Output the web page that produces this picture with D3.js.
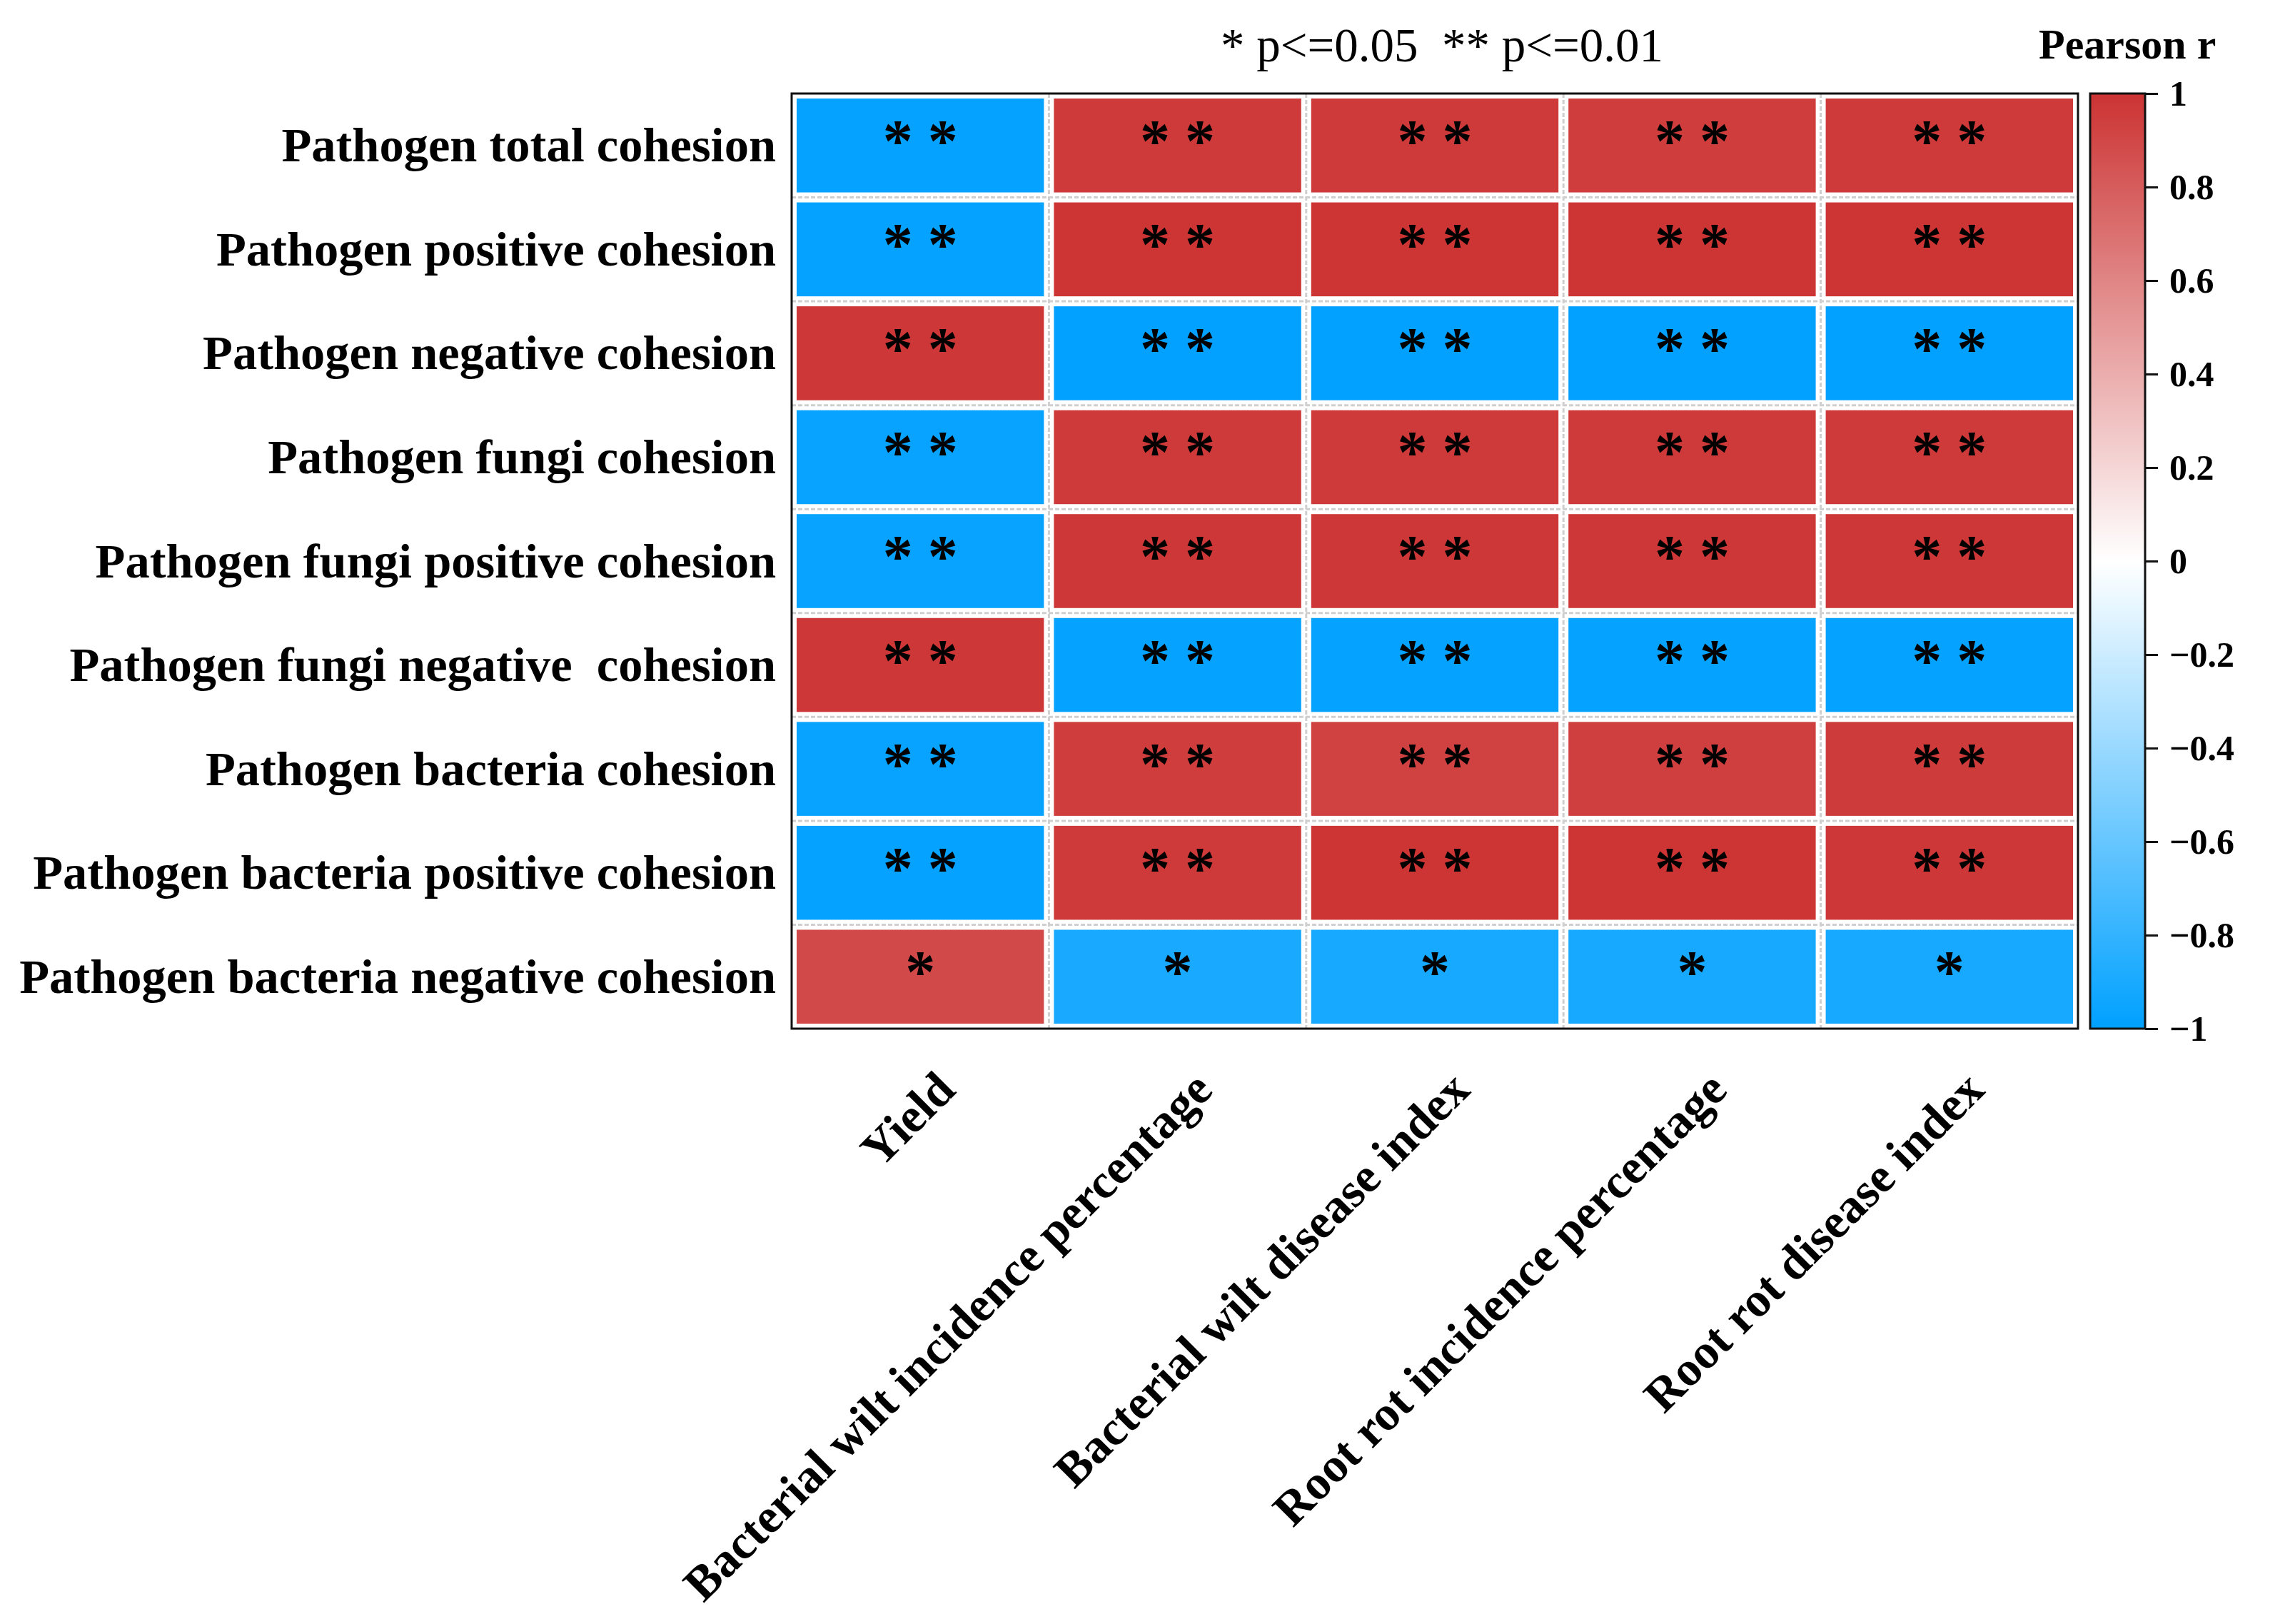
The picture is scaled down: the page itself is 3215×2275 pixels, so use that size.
<!DOCTYPE html>
<html lang="en">
<head>
  <meta charset="UTF-8">
  <title>pearson heatmap</title>
  <script src="https://cdn.jsdelivr.net/npm/d3@7"></script>
  <style>
    body { margin: 0; background: #fff; }
    text { font-family: "Liberation Serif", "Times New Roman", serif; }
  </style>
</head>
<body>
  <script>
    // row / column labels
    var rows = [
      'Pathogen total cohesion',
      'Pathogen positive cohesion',
      'Pathogen negative cohesion',
      'Pathogen fungi cohesion',
      'Pathogen fungi positive cohesion',
      'Pathogen fungi negative  cohesion',
      'Pathogen bacteria cohesion',
      'Pathogen bacteria positive cohesion',
      'Pathogen bacteria negative cohesion'
    ]
    var cols = [
      'Yield',
      'Bacterial wilt incidence percentage',
      'Bacterial wilt disease index',
      'Root rot incidence percentage',
      'Root rot disease index'
    ]
    // pearson r, one list per row
    var r_total      = [-0.98, 0.97, 0.97, 0.95, 0.97]
    var r_pos        = [-0.98, 0.99, 0.99, 0.99, 0.99]
    var r_neg        = [0.98, -0.99, -0.99, -0.99, -0.99]
    var r_fungi      = [-0.97, 0.97, 0.97, 0.97, 0.97]
    var r_fungi_pos  = [-0.97, 0.98, 0.98, 0.98, 0.98]
    var r_fungi_neg  = [0.98, -0.98, -0.98, -0.98, -0.98]
    var r_bact       = [-0.97, 0.95, 0.93, 0.94, 0.96]
    var r_bact_pos   = [-0.98, 0.97, 0.99, 0.99, 0.98]
    var r_bact_neg   = [0.89, -0.90, -0.91, -0.91, -0.91]
    var values = [r_total, r_pos, r_neg, r_fungi, r_fungi_pos, r_fungi_neg, r_bact, r_bact_pos, r_bact_neg]
    // significance marks
    var signif = [
      ['**', '**', '**', '**', '**'],
      ['**', '**', '**', '**', '**'],
      ['**', '**', '**', '**', '**'],
      ['**', '**', '**', '**', '**'],
      ['**', '**', '**', '**', '**'],
      ['**', '**', '**', '**', '**'],
      ['**', '**', '**', '**', '**'],
      ['**', '**', '**', '**', '**'],
      ['*', '*', '*', '*', '*']
    ]
    var barTicks = [1, 0.8, 0.6, 0.4, 0.2, 0, -0.2, -0.4, -0.6, -0.8, -1]

    var w = 3215, h = 2275
    var pL = 1109, pR = 2911, pT = 131, pB = 1441
    var inset = 7

    var svg = d3.select('body').append('svg').attr('width', w).attr('height', h)

    var x = d3.scaleBand().domain(d3.range(cols.length)).range([pL, pR])
    var y = d3.scaleBand().domain(d3.range(rows.length)).range([pT, pB])
    var color = d3.scaleLinear().domain([-1, 0, 1]).range(['#00a0ff', '#ffffff', '#cc3333'])

    // cells
    var cells = []
    values.forEach(function (row, i) {
      row.forEach(function (v, j) { cells.push({ i: i, j: j, v: v, s: signif[i][j] }) })
    })
    svg.append('g').selectAll('rect').data(cells).enter().append('rect')
      .attr('x', function (d) { return x(d.j) + inset })
      .attr('y', function (d) { return y(d.i) + inset })
      .attr('width', x.bandwidth() - 2 * inset)
      .attr('height', y.bandwidth() - 2 * inset)
      .attr('fill', function (d) { return color(d.v) })

    // dashed grid between cells
    var grid = svg.append('g').attr('stroke', '#cfcfcf').attr('stroke-width', 3).attr('stroke-dasharray', '6,3')
    d3.range(1, rows.length).forEach(function (i) {
      grid.append('line').attr('x1', pL).attr('x2', pR).attr('y1', y(i)).attr('y2', y(i))
    })
    d3.range(1, cols.length).forEach(function (j) {
      grid.append('line').attr('y1', pT).attr('y2', pB).attr('x1', x(j)).attr('x2', x(j))
    })

    svg.append('rect').attr('x', pL).attr('y', pT).attr('width', pR - pL).attr('height', pB - pT)
      .attr('fill', 'none').attr('stroke', '#111').attr('stroke-width', 3)

    // asterisks
    svg.append('g').selectAll('text').data(cells).enter().append('text')
      .attr('x', function (d) { return x(d.j) + x.bandwidth() / 2 })
      .attr('y', function (d) { return y(d.i) + y.bandwidth() / 2 + 22 })
      .attr('text-anchor', 'middle')
      .attr('font-size', 84)
      .attr('font-weight', 'bold')
      .text(function (d) { return d.s.split('').join(' ') })

    // row labels
    svg.append('g').selectAll('text').data(rows).enter().append('text')
      .attr('x', pL - 22)
      .attr('y', function (d, i) { return y(i) + y.bandwidth() / 2 })
      .attr('dy', '0.33em')
      .attr('text-anchor', 'end')
      .attr('font-size', 68.5)
      .attr('font-weight', 'bold')
      .style('white-space', 'pre')
      .text(function (d) { return d })

    // column labels, rotated
    svg.append('g').selectAll('text').data(cols).enter().append('text')
      .attr('text-anchor', 'end')
      .attr('font-size', 68)
      .attr('font-weight', 'bold')
      .attr('transform', function (d, j) {
        return 'translate(' + (x(j) + x.bandwidth() / 2 + 52) + ',' + 1530 + ') rotate(-45)'
      })
      .text(function (d) { return d })

    // significance legend
    svg.append('text')
      .attr('x', (pL + pR) / 2 + 10).attr('y', 86)
      .attr('text-anchor', 'middle')
      .attr('font-size', 67)
      .style('white-space', 'pre')
      .text('* p<=0.05  ** p<=0.01')

    // colour bar
    var barX = 2928, barW = 77
    var defs = svg.append('defs')
    var grad = defs.append('linearGradient').attr('id', 'bar').attr('x1', 0).attr('x2', 0).attr('y1', 1).attr('y2', 0)
    d3.range(0, 1.0001, 0.05).forEach(function (t) {
      grad.append('stop').attr('offset', t).attr('stop-color', color(-1 + 2 * t))
    })
    svg.append('rect').attr('x', barX).attr('y', pT).attr('width', barW).attr('height', pB - pT)
      .attr('fill', 'url(#bar)').attr('stroke', '#111').attr('stroke-width', 3)

    var barScale = d3.scaleLinear().domain([-1, 1]).range([pB, pT])
    var barAxis = svg.append('g').attr('transform', 'translate(' + (barX + barW) + ',0)')
      .call(d3.axisRight(barScale).tickValues(barTicks).tickSize(18).tickPadding(16).tickFormat(d3.format('~g')))
    barAxis.select('.domain').remove()
    barAxis.selectAll('line').attr('stroke', '#111').attr('stroke-width', 3)
    barAxis.selectAll('text').attr('font-size', 50).attr('font-weight', 'bold')
      .attr('font-family', '"Liberation Serif", serif').attr('fill', '#000')

    svg.append('text').attr('x', 2856).attr('y', 82)
      .attr('font-size', 60).attr('font-weight', 'bold').text('Pearson r')
  </script>
</body>
</html>
